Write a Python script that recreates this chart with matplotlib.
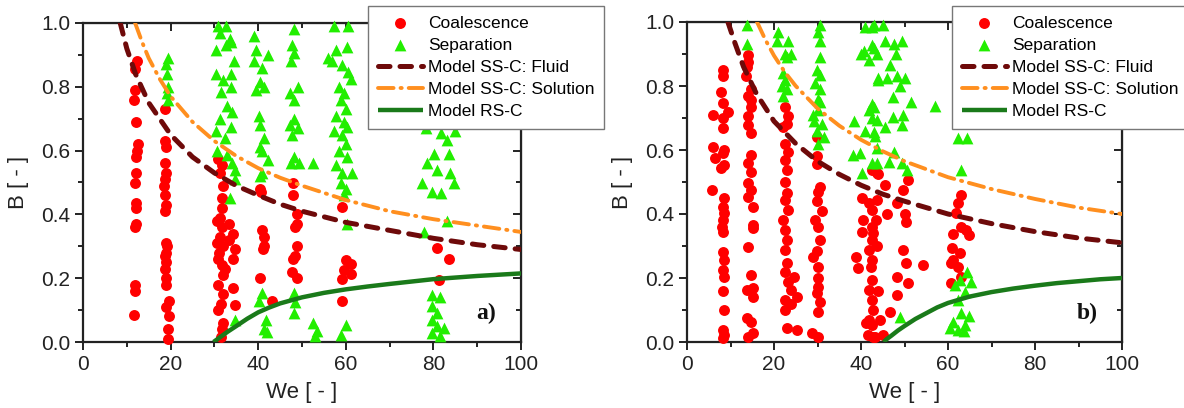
import numpy as np
import matplotlib
matplotlib.use("Agg")
import matplotlib.pyplot as plt
from matplotlib.ticker import MultipleLocator, FormatStrFormatter

plt.rcParams['font.family'] = ['Liberation Sans', 'DejaVu Sans']

# ---- panel a) data (We, B) ----
coal_a = [
    (12.3, 0.88), (11.8, 0.855), (11.8, 0.79), (11.6, 0.76), (12.0, 0.69), (12.5, 0.62), (12.3, 0.60),
    (12.1, 0.58), (12.0, 0.53), (11.8, 0.50), (12.0, 0.435), (12.2, 0.42), (12.0, 0.37), (11.8, 0.36),
    (11.8, 0.18), (11.8, 0.16), (11.6, 0.085),
    (18.8, 0.73), (18.8, 0.63), (19.0, 0.61), (18.8, 0.56), (18.9, 0.53), (18.8, 0.51), (18.6, 0.49),
    (18.8, 0.46), (19.0, 0.43), (18.7, 0.41), (18.9, 0.31), (19.1, 0.30), (18.9, 0.28), (18.8, 0.27),
    (18.9, 0.25), (18.7, 0.23), (18.9, 0.20), (19.0, 0.18), (19.6, 0.13), (18.9, 0.11), (19.6, 0.08),
    (19.4, 0.04), (19.3, 0.01),
    (30.9, 0.575), (31.7, 0.555), (31.2, 0.53), (32.0, 0.49), (31.7, 0.45), (31.7, 0.42), (31.2, 0.39),
    (30.5, 0.38), (31.7, 0.36), (31.2, 0.33), (32.0, 0.30), (30.9, 0.26), (31.7, 0.24), (32.0, 0.21),
    (30.9, 0.18), (32.0, 0.15), (30.9, 0.10), (32.0, 0.06), (31.7, 0.04), (31.4, 0.016), (30.5, 0.31),
    (31.0, 0.28), (32.5, 0.23), (31.5, 0.12),
    (33.4, 0.37), (34.2, 0.34), (33.4, 0.32), (34.8, 0.29), (34.2, 0.26), (34.2, 0.17), (34.8, 0.115),
    (40.5, 0.48), (40.7, 0.47), (40.9, 0.35), (41.3, 0.33), (41.3, 0.30), (41.0, 0.29), (40.5, 0.20),
    (43.2, 0.13),
    (48.0, 0.50), (48.0, 0.46), (48.8, 0.40), (48.8, 0.37), (48.4, 0.36), (48.8, 0.30), (48.4, 0.27),
    (48.0, 0.26), (47.8, 0.22), (48.8, 0.20),
    (59.2, 0.424), (60.0, 0.258), (61.1, 0.243), (59.6, 0.227), (61.1, 0.212), (59.2, 0.196),
    (59.2, 0.129),
    (80.9, 0.294), (81.3, 0.195), (83.6, 0.26),
]
sep_a = [
    (19.3, 0.89), (18.9, 0.87), (19.2, 0.84), (19.4, 0.80), (19.1, 0.78), (19.3, 0.76),
    (30.8, 0.99), (32.7, 0.99), (31.2, 0.97), (33.5, 0.95), (30.3, 0.915), (32.7, 0.93), (33.7, 0.94),
    (34.5, 0.88), (30.3, 0.84), (32.0, 0.82), (33.7, 0.84), (31.5, 0.785), (33.7, 0.80), (32.9, 0.74),
    (34.0, 0.72), (31.2, 0.70), (33.7, 0.675), (30.3, 0.66), (32.5, 0.64), (30.7, 0.60), (32.9, 0.585),
    (34.0, 0.56), (34.7, 0.54), (34.7, 0.51), (33.6, 0.45), (40.5, 0.52),
    (39.0, 0.96), (39.4, 0.915), (42.2, 0.90), (39.0, 0.88), (40.9, 0.86), (40.5, 0.816), (39.4, 0.79),
    (41.3, 0.80), (40.2, 0.71), (40.5, 0.68), (41.3, 0.64), (40.5, 0.61), (40.9, 0.60), (42.2, 0.57),
    (40.9, 0.53),
    (48.1, 0.98), (47.8, 0.93), (48.1, 0.905), (47.4, 0.88), (49.0, 0.80), (47.2, 0.78), (48.1, 0.76),
    (48.1, 0.70), (47.2, 0.68), (49.0, 0.67), (47.8, 0.65), (48.1, 0.58), (47.4, 0.56), (49.4, 0.56),
    (52.6, 0.56), (56.0, 0.89),
    (57.3, 0.99), (60.6, 0.99), (60.3, 0.926), (57.7, 0.915), (56.9, 0.88), (59.2, 0.868), (60.6, 0.847),
    (61.1, 0.826), (58.4, 0.80), (59.6, 0.78), (58.8, 0.76), (60.0, 0.73), (57.7, 0.71), (59.6, 0.69),
    (60.3, 0.675), (57.3, 0.66), (59.2, 0.65), (60.0, 0.62), (58.4, 0.60), (60.3, 0.58), (57.7, 0.555),
    (59.2, 0.53), (61.5, 0.53), (58.8, 0.50), (60.0, 0.48), (59.6, 0.46), (60.3, 0.37),
    (78.3, 0.67), (81.7, 0.654), (83.2, 0.633), (85.0, 0.66), (80.2, 0.59), (83.5, 0.59), (78.6, 0.56),
    (80.8, 0.54), (83.9, 0.53), (77.5, 0.50), (84.7, 0.50), (79.6, 0.47), (81.7, 0.466), (83.2, 0.38),
    (77.9, 0.345),
    (40.9, 0.153), (40.2, 0.13), (41.7, 0.07), (41.3, 0.04), (42.0, 0.03), (48.1, 0.155), (48.5, 0.125),
    (48.1, 0.09), (52.6, 0.06), (53.4, 0.035), (52.9, 0.02), (34.7, 0.07), (58.8, 0.022), (60.0, 0.053),
    (79.7, 0.147), (81.6, 0.14), (79.7, 0.112), (80.9, 0.09), (79.7, 0.07), (82.4, 0.045), (79.7, 0.028),
    (81.6, 0.018), (80.9, 0.05),
]

# ---- panel b) data ----
coal_b = [
    (6.0, 0.71), (6.0, 0.61), (6.4, 0.574), (5.7, 0.475),
    (8.3, 0.85), (8.3, 0.83), (7.9, 0.78), (8.3, 0.746), (9.5, 0.72), (8.3, 0.70), (8.3, 0.67), (8.6, 0.60),
    (8.3, 0.59), (8.6, 0.554), (7.9, 0.545), (8.6, 0.45), (8.3, 0.422), (8.6, 0.402), (8.3, 0.381),
    (8.0, 0.36), (8.3, 0.345), (8.3, 0.282), (8.6, 0.257), (8.3, 0.225), (8.6, 0.204), (8.3, 0.158),
    (8.6, 0.10), (8.3, 0.038), (8.6, 0.022), (8.3, 0.012),
    (14.1, 0.897), (14.1, 0.876), (13.8, 0.86), (13.5, 0.83), (14.6, 0.79), (14.1, 0.77), (14.6, 0.756),
    (14.6, 0.735), (14.1, 0.705), (14.1, 0.678), (14.6, 0.652), (14.6, 0.584), (14.1, 0.558), (14.6, 0.532),
    (14.1, 0.496), (14.6, 0.475), (14.1, 0.454), (15.1, 0.422), (15.1, 0.366), (15.1, 0.355), (14.1, 0.298),
    (14.6, 0.209), (13.8, 0.163), (15.1, 0.168), (15.1, 0.141), (13.8, 0.074), (14.6, 0.064), (15.1, 0.027),
    (14.1, 0.016),
    (22.5, 0.735), (23.3, 0.705), (22.9, 0.68), (22.1, 0.673), (22.5, 0.62), (23.3, 0.594), (22.5, 0.569),
    (22.9, 0.537), (22.5, 0.50), (22.9, 0.465), (22.5, 0.444), (23.3, 0.413), (22.1, 0.381), (22.5, 0.35),
    (22.9, 0.319), (22.5, 0.288), (22.9, 0.246), (22.5, 0.22), (23.3, 0.189), (24.5, 0.204), (23.8, 0.163),
    (25.4, 0.142), (22.5, 0.131), (23.8, 0.12), (22.5, 0.10), (22.9, 0.043), (25.4, 0.038),
    (29.8, 0.64), (29.8, 0.58), (29.8, 0.557), (30.6, 0.485), (30.2, 0.47), (29.8, 0.44), (31.0, 0.408),
    (29.4, 0.381), (30.2, 0.36), (30.6, 0.32), (29.8, 0.283), (29.0, 0.267), (30.2, 0.235), (30.2, 0.199),
    (30.2, 0.173), (29.8, 0.152), (30.6, 0.126), (30.2, 0.095), (28.8, 0.027), (30.2, 0.017),
    (42.5, 0.537), (44.0, 0.526), (40.2, 0.45), (41.8, 0.434), (42.5, 0.413), (40.4, 0.381), (42.5, 0.36),
    (40.2, 0.345), (42.5, 0.319), (41.8, 0.288), (42.5, 0.257), (38.8, 0.267), (39.2, 0.23), (42.3, 0.235),
    (42.5, 0.194), (41.8, 0.163), (42.5, 0.131), (42.8, 0.10), (41.8, 0.069), (42.5, 0.053), (41.6, 0.022),
    (42.8, 0.017), (41.2, 0.059),
    (43.6, 0.527), (45.5, 0.49), (43.6, 0.443), (45.9, 0.40), (48.2, 0.434), (49.7, 0.475), (50.8, 0.506),
    (50.0, 0.40), (50.4, 0.376), (42.8, 0.34), (49.7, 0.288), (50.4, 0.246), (54.2, 0.241), (48.2, 0.204),
    (50.8, 0.183), (48.2, 0.146), (46.7, 0.095), (44.4, 0.069), (45.1, 0.022), (43.2, 0.017), (43.6, 0.30),
    (43.9, 0.16), (43.4, 0.38),
    (63.0, 0.46), (62.2, 0.434), (61.9, 0.402), (63.0, 0.36), (64.1, 0.35), (64.9, 0.334), (61.2, 0.339),
    (60.9, 0.293), (62.7, 0.277), (61.2, 0.256), (62.4, 0.235), (60.6, 0.246), (63.0, 0.204), (60.6, 0.183),
]
sep_b = [
    (13.7, 0.99), (13.9, 0.93),
    (21.0, 0.97), (20.6, 0.94), (23.3, 0.94), (22.5, 0.90), (24.0, 0.90), (22.9, 0.89), (22.1, 0.84),
    (22.5, 0.82), (21.8, 0.80), (22.9, 0.79), (22.1, 0.77),
    (30.6, 0.99), (30.2, 0.97), (30.6, 0.94), (30.6, 0.89), (29.8, 0.85), (30.6, 0.835), (29.4, 0.81),
    (30.6, 0.79), (30.2, 0.76), (30.6, 0.75), (28.9, 0.71), (30.2, 0.725), (29.2, 0.69), (31.0, 0.68),
    (29.8, 0.66), (31.4, 0.64), (30.2, 0.62),
    (41.0, 0.985), (42.5, 0.985), (40.7, 0.91), (42.5, 0.928), (39.9, 0.90), (41.8, 0.88), (44.0, 0.82),
    (42.5, 0.745), (41.8, 0.725), (38.5, 0.69), (42.5, 0.70), (41.0, 0.66), (43.3, 0.645), (38.2, 0.585),
    (39.7, 0.59), (42.5, 0.558), (40.2, 0.527),
    (42.9, 0.99), (45.1, 0.99), (45.5, 0.94), (49.4, 0.94), (47.5, 0.93), (42.9, 0.92), (43.6, 0.90),
    (48.0, 0.90), (46.7, 0.866), (44.0, 0.824), (45.9, 0.824), (48.2, 0.83), (50.0, 0.824), (48.9, 0.80),
    (47.4, 0.767), (51.6, 0.75), (56.9, 0.738), (42.9, 0.735), (47.4, 0.704), (49.7, 0.709), (43.6, 0.694),
    (45.5, 0.673), (49.4, 0.678), (42.9, 0.657), (62.3, 0.636), (64.3, 0.636), (43.6, 0.605), (47.5, 0.594),
    (46.4, 0.563), (49.4, 0.558), (50.6, 0.537), (43.6, 0.558), (63.1, 0.537),
    (64.3, 0.22), (62.7, 0.194), (65.2, 0.189), (61.6, 0.178), (63.9, 0.157), (62.3, 0.131), (63.1, 0.09),
    (61.2, 0.064), (63.9, 0.054), (62.3, 0.038), (60.5, 0.043), (64.8, 0.08), (63.7, 0.035), (48.9, 0.078),
]

# ---- model curves ----
fluid_a_we = [8.5, 10, 12, 15, 20, 25, 30, 35, 40, 45, 50, 60, 70, 80, 90, 100]
fluid_a_b = [1.0, 0.92, 0.84, 0.75, 0.65, 0.58, 0.53, 0.49, 0.46, 0.432, 0.41, 0.375, 0.35, 0.325, 0.305, 0.29]
sol_a_we = [11.9, 13.5, 15, 17.5, 20, 25, 30, 35, 40, 45, 50, 60, 70, 80, 90, 100]
sol_a_b = [1.0, 0.94, 0.89, 0.825, 0.77, 0.69, 0.63, 0.583, 0.545, 0.515, 0.49, 0.445, 0.41, 0.385, 0.365, 0.345]
rs_a_we = [29.8, 30.5, 31, 32, 33, 35, 37.5, 40, 42.5, 45, 50, 55, 60, 65, 70, 80, 90, 100]
rs_a_b = [0.0, 0.007, 0.012, 0.022, 0.032, 0.05, 0.073, 0.093, 0.108, 0.121, 0.14, 0.154, 0.165, 0.174,
          0.182, 0.197, 0.207, 0.215]

fluid_b_we = [9.4, 11, 13, 16, 20, 25, 30, 35, 40, 45, 50, 60, 70, 80, 90, 100]
fluid_b_b = [1.0, 0.935, 0.86, 0.775, 0.69, 0.62, 0.565, 0.524, 0.49, 0.462, 0.44, 0.40, 0.37, 0.345, 0.325, 0.31]
sol_b_we = [16.1, 18, 20, 22.5, 25, 30, 35, 40, 45, 50, 60, 70, 80, 90, 100]
sol_b_b = [1.0, 0.945, 0.895, 0.843, 0.80, 0.73, 0.676, 0.632, 0.596, 0.565, 0.515, 0.478, 0.447, 0.42, 0.40]
rs_b_we = [45.2, 46, 47, 48.5, 50, 52.5, 55, 57.5, 60, 65, 70, 75, 80, 85, 90, 95, 100]
rs_b_b = [0.0, 0.01, 0.02, 0.036, 0.05, 0.072, 0.09, 0.108, 0.122, 0.142, 0.156, 0.167, 0.176, 0.184,
          0.19, 0.196, 0.20]

RED = '#ff0000'
LIME = '#22ee00'
DARKRED = '#6e0a0a'
ORANGE = '#ff8f1f'
DKGREEN = '#1a7a1a'

fig = plt.figure(figsize=(11.84, 4.08), dpi=100)
ax_a = fig.add_axes([83 / 1184, 66 / 408, 438 / 1184, 319 / 408])
ax_b = fig.add_axes([687 / 1184, 66 / 408, 435 / 1184, 320 / 408])

panels = [
    (ax_a, coal_a, sep_a, fluid_a_we, fluid_a_b, sol_a_we, sol_a_b, rs_a_we, rs_a_b, 'a)', 368),
    (ax_b, coal_b, sep_b, fluid_b_we, fluid_b_b, sol_b_we, sol_b_b, rs_b_we, rs_b_b, 'b)', 952),
]

for ax, coal, sep, fw, fb, sw, sb, rw, rb, tag, leg_x in panels:
    cw, cb = zip(*coal)
    pw, pb = zip(*sep)
    ax.scatter(cw, cb, s=62, marker='o', color=RED, linewidths=0, label='Coalescence', zorder=3, clip_on=False)
    ax.scatter(pw, pb, s=72, marker='^', color=LIME, linewidths=0, label='Separation', zorder=3, clip_on=False)
    ax.plot(fw, fb, color=DARKRED, lw=3.6, dashes=(2.3, 2.0), dash_capstyle='round',
            label='Model SS-C: Fluid', zorder=4)
    ax.plot(sw, sb, color=ORANGE, lw=2.8, dashes=(4.0, 1.8, 0.3, 1.8), dash_capstyle='round',
            label='Model SS-C: Solution', zorder=4)
    ax.plot(rw, rb, color=DKGREEN, lw=3.2, solid_capstyle='butt', label='Model RS-C', zorder=4)

    ax.set_xlim(0, 100)
    ax.set_ylim(0, 1)
    ax.xaxis.set_major_locator(MultipleLocator(20))
    ax.xaxis.set_minor_locator(MultipleLocator(10))
    ax.yaxis.set_major_locator(MultipleLocator(0.2))
    ax.yaxis.set_minor_locator(MultipleLocator(0.1))
    ax.yaxis.set_major_formatter(FormatStrFormatter('%.1f'))
    ax.tick_params(which='both', direction='out', width=1.4, labelsize=15, colors='#222222')
    ax.tick_params(which='major', length=6, pad=3)
    ax.tick_params(which='minor', length=3.5)
    for sp in ax.spines.values():
        sp.set_linewidth(1.6)
        sp.set_color('#222222')

    top = ax.secondary_xaxis('top')
    top.xaxis.set_major_locator(MultipleLocator(20))
    top.xaxis.set_minor_locator(MultipleLocator(10))
    top.tick_params(which='both', direction='in', width=1.4, labeltop=False, colors='#222222')
    top.tick_params(which='major', length=6)
    top.tick_params(which='minor', length=3.5)
    right = ax.secondary_yaxis('right')
    right.yaxis.set_major_locator(MultipleLocator(0.2))
    right.yaxis.set_minor_locator(MultipleLocator(0.1))
    right.tick_params(which='both', direction='in', width=1.4, labelright=False, colors='#222222')
    right.tick_params(which='major', length=6)
    right.tick_params(which='minor', length=3.5)

    ax.set_xlabel('We [ - ]', fontsize=16, labelpad=6, color='#222222')
    ax.set_ylabel('B [ - ]', fontsize=16, labelpad=9, color='#222222')
    ax.text(92, 0.09, tag, fontsize=17, fontweight='bold', family='Liberation Serif',
            ha='center', va='center', color='#111111', zorder=5)

    leg = ax.legend(loc='upper left', bbox_to_anchor=(leg_x / 1184, 1 - 6 / 408),
                    bbox_transform=fig.transFigure, borderaxespad=0, fontsize=12.5,
                    frameon=True, fancybox=False, edgecolor='#777777', framealpha=1,
                    handlelength=2.6, handletextpad=0.3, labelspacing=0.4,
                    borderpad=0.55, markerscale=1.0)
    leg.get_frame().set_linewidth(1.0)
    leg.set_zorder(10)

fig.savefig('out.png', dpi=100)
